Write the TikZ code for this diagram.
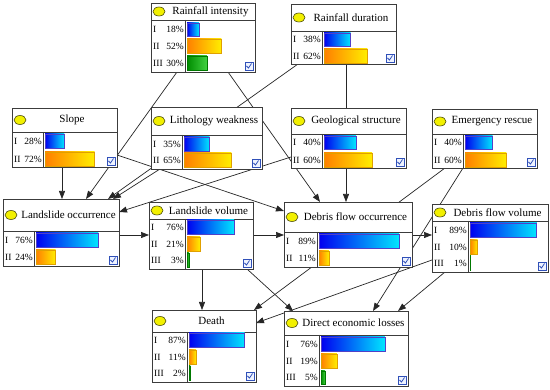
\documentclass[tikz,border=0pt]{standalone}
\usepackage{fontspec}
\setmainfont{Liberation Serif}
\usetikzlibrary{arrows.meta,calc,shapes.geometric}
\pgfdeclarelayer{bg}
\pgfsetlayers{bg,main}
\definecolor{framec}{HTML}{3C3C3C}
\definecolor{linkc}{HTML}{262626}
\definecolor{barIl}{HTML}{0000F0}
\definecolor{barIr}{HTML}{00E6FF}
\definecolor{barIb}{HTML}{5040C8}
\definecolor{barIIl}{HTML}{FF7F00}
\definecolor{barIIr}{HTML}{FFEE00}
\definecolor{barIIb}{HTML}{E0A000}
\definecolor{barIIIl}{HTML}{008C00}
\definecolor{barIIIr}{HTML}{40D040}
\definecolor{barIIIb}{HTML}{007800}
\definecolor{chkb}{HTML}{3050B8}
\definecolor{chkf}{HTML}{EEF3FF}
\definecolor{dotf}{HTML}{F2F000}
\definecolor{dotb}{HTML}{505010}
\tikzset{
  netframe/.style={draw=framec, line width=0.9pt, fill=white, rectangle, inner sep=0pt, outer sep=0pt, anchor=north west},
  sepline/.style={draw=framec, line width=0.8pt},
  link/.style={draw=linkc, line width=0.7pt, -{Triangle[length=8pt,width=6pt]}},
  ydot/.style={ellipse, draw=dotb, fill=dotf, minimum width=12pt, minimum height=9pt, inner sep=0pt, line width=0.6pt},
  ttl/.style={font=\fontsize{11}{13}\selectfont, inner sep=0pt},
  rowtxt/.style={font=\fontsize{9.5}{11}\selectfont, inner sep=0pt},
  barI/.style={draw=barIb, line width=0.6pt, left color=barIl, right color=barIr},
  barII/.style={draw=barIIb, line width=0.6pt, left color=barIIl, right color=barIIr},
  barIII/.style={draw=barIIIb, line width=0.6pt, left color=barIIIl, right color=barIIIr},
  chk/.style={draw=chkb, fill=chkf, line width=0.6pt},
  chkm/.style={draw=chkb, line width=0.8pt}
}
% #1 name, #2 x1, #3 y1, #4 x2, #5 y2, #6 header bottom, #7 divider x, #8 title
\newcommand\netbox[8]{%
  \node[netframe, minimum width={(#4-#2)*1pt}, minimum height={(#5-#3)*1pt}] (#1) at (#2,#3) {};
  \draw[sepline] (#2,#6) -- (#4,#6) (#7,#6) -- (#7,#5);
  \node[ydot] at ({#2+8},{(#3+#6)/2}) {};
  \node[ttl] at ({(#2+15+#4)/2},{(#3+#6)/2}) {#8};
  \draw[chk] ({#4-10},{#5-10}) rectangle ({#4-2},{#5-2});
  \draw[chkm] ({#4-8.5},{#5-6}) -- ({#4-6.5},{#5-4}) -- ({#4-3.5},{#5-8.5});
}
% #1 x1, #2 xd, #3 ytop, #4 ybot, #5 label, #6 pct, #7 fraction, #8 full width, #9 style
\newcommand\netrow[9]{%
  \node[rowtxt, anchor=west] at ({#1+2},{(#3+#4)/2}) {#5};
  \node[rowtxt, anchor=east] at ({#2-1},{(#3+#4)/2}) {#6};
  \path[#9] ({#2+2},#3) rectangle ({#2+2+#7*#8},#4);
}
\begin{document}
\begin{tikzpicture}[x=1pt,y=-1pt]
\useasboundingbox (0,0) rectangle (550,390);
\begin{pgfonlayer}{bg}
\fill[white] (0,0) rectangle (550,390);
\end{pgfonlayer}

\netbox{ri}{151}{3}{255}{72}{20}{185}{Rainfall intensity}
\netrow{151}{185}{23}{36}{I}{18\%}{0.18}{66}{barI}
\netrow{151}{185}{39}{53}{II}{52\%}{0.52}{66}{barII}
\netrow{151}{185}{56}{70}{III}{30\%}{0.30}{66}{barIII}

\netbox{rd}{291}{4}{396}{64}{31}{322}{Rainfall duration}
\netrow{291}{322}{33}{46}{I}{38\%}{0.38}{70}{barI}
\netrow{291}{322}{49}{63}{II}{62\%}{0.62}{70}{barII}

\netbox{slope}{12}{108}{117}{167}{132}{43}{Slope}
\netrow{12}{43}{134}{148}{I}{28\%}{0.28}{69}{barI}
\netrow{12}{43}{152}{166}{II}{72\%}{0.72}{69}{barII}

\netbox{lw}{151}{107}{262}{169}{135}{182}{Lithology weakness}
\netrow{151}{182}{137}{151}{I}{35\%}{0.35}{73}{barI}
\netrow{151}{182}{153}{167}{II}{65\%}{0.65}{73}{barII}

\netbox{gs}{291}{108}{406}{168}{134}{322}{Geological structure}
\netrow{291}{322}{136}{149}{I}{40\%}{0.40}{80}{barI}
\netrow{291}{322}{153}{167}{II}{60\%}{0.60}{80}{barII}

\netbox{er}{432}{109}{537}{168}{134}{463}{Emergency rescue}
\netrow{432}{463}{136}{149}{I}{40\%}{0.40}{69}{barI}
\netrow{432}{463}{153}{167}{II}{60\%}{0.60}{69}{barII}

\netbox{lo}{3}{199}{119}{266}{231}{34}{Landslide occurrence}
\netrow{3}{34}{233}{247}{I}{76\%}{0.76}{82}{barI}
\netrow{3}{34}{250}{264}{II}{24\%}{0.24}{82}{barII}

\netbox{lv}{149}{202}{253}{269}{219}{185}{Landslide volume}
\netrow{149}{185}{220}{234}{I}{76\%}{0.76}{62}{barI}
\netrow{149}{185}{237}{251}{II}{21\%}{0.21}{62}{barII}
\netrow{149}{185}{253}{267}{III}{3\%}{0.03}{62}{barIII}

\netbox{dfo}{284}{202}{412}{267}{232}{317}{Debris flow occurrence}
\netrow{284}{317}{234}{248}{I}{89\%}{0.89}{90}{barI}
\netrow{284}{317}{251}{265}{II}{11\%}{0.11}{90}{barII}

\netbox{dfv}{432}{204}{548}{272}{221}{468}{Debris flow volume}
\netrow{432}{468}{223}{237}{I}{89\%}{0.89}{75}{barI}
\netrow{432}{468}{240}{254}{II}{10\%}{0.10}{75}{barII}
\netrow{432}{468}{256}{270}{III}{1\%}{0.01}{75}{barIII}

\netbox{death}{152}{310}{256}{382}{332}{187}{Death}
\netrow{152}{187}{333}{347}{I}{87\%}{0.87}{64}{barI}
\netrow{152}{187}{350}{364}{II}{11\%}{0.11}{64}{barII}
\netrow{152}{187}{366}{380}{III}{2\%}{0.02}{64}{barIII}

\netbox{del}{284}{311}{408}{386}{335}{319}{Direct economic losses}
\netrow{284}{319}{337}{351}{I}{76\%}{0.76}{84}{barI}
\netrow{284}{319}{354}{368}{II}{19\%}{0.19}{84}{barII}
\netrow{284}{319}{371}{384}{III}{5\%}{0.05}{84}{barIII}

\begin{pgfonlayer}{bg}
\draw[link] ($(slope.north west)+(50,59)$) -- ($(lo.north west)+(59,0)$);
\draw[link] ($(ri.north west)+(26,69)$) -- ($(lo.north west)+(83,0)$);
\draw[link] ($(rd.north west)+(7,60)$) -- ($(lo.north west)+(105,0)$);
\draw[link] ($(lw.north west)+(9,62)$) -- ($(lo.north west)+(110,0)$);
\draw[link] ($(gs.north west)+(0,49)$) -- ($(lo.north west)+(116,13)$);
\draw[link] ($(slope.north west)+(105,47)$) -- ($(dfo.north west)+(0,9)$);
\draw[link] ($(ri.north west)+(77,69)$) -- ($(dfo.north west)+(36,0)$);
\draw[link] ($(rd.north west)+(55,60)$) -- ($(dfo.north west)+(62,0)$);
\draw[link] ($(lo.north west)+(116,36)$) -- ($(lv.north west)+(0,33)$);
\draw[link] ($(lv.north west)+(104,33)$) -- ($(dfo.north west)+(0,33)$);
\draw[link] ($(dfo.north west)+(128,33)$) -- ($(dfv.north west)+(0,31)$);
\draw[link] ($(lv.north west)+(53,67)$) -- ($(death.north west)+(50,0)$);
\draw[link] ($(lv.north west)+(98,67)$) -- ($(del.north west)+(9,0)$);
\draw[link] ($(er.north west)+(13,59)$) -- ($(death.north west)+(102,0)$);
\draw[link] ($(er.north west)+(31,59)$) -- ($(del.north west)+(89,0)$);
\draw[link] ($(dfv.north west)+(0,56)$) -- ($(death.north west)+(104,13)$);
\draw[link] ($(dfv.north west)+(13,68)$) -- ($(del.north west)+(114,0)$);
\end{pgfonlayer}
\end{tikzpicture}
\end{document}
